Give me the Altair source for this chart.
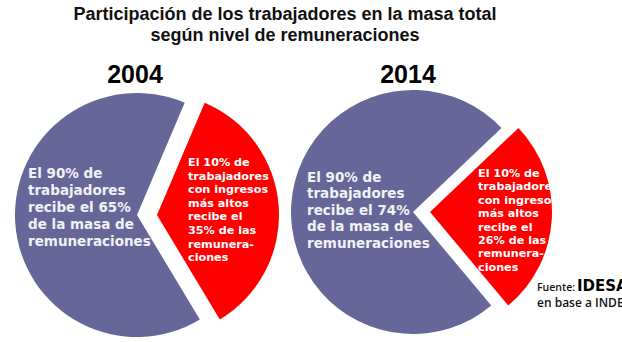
import math

import altair as alt
import pandas as pd

# ---- data -------------------------------------------------------------
years = ["2004", "2014"]
share_top10 = [35, 26]     # % of total wages received by the top 10% of workers
share_rest90 = [65, 74]    # % of total wages received by the remaining 90%

title_lines = [
    "Participación de los trabajadores en la masa total",
    "según nivel de remuneraciones",
]
source_prefix = "Fuente:"
source_name = "IDESA"
source_basis = "en base a INDEC"

# ---- layout constants -------------------------------------------------
W, H = 622, 342
BLUE = "#666699"
RED = "#ff0000"
RADIUS = 122

# per pie: centre of the large slice, horizontal shift of the exploded slice,
# rotation (degrees clockwise from 12 o'clock) where the exploded slice starts
pies = [
    dict(cx=137, cy=215, shift=20, rot=23.0, year_x=135,
         rest_xy=(28, 178), rest_lh=17.0, top_xy=(188, 166), top_lh=13.6),
    dict(cx=413, cy=212, shift=17, rot=46.5, year_x=408,
         rest_xy=(307, 182), rest_lh=16.4, top_xy=(478, 177), top_lh=13.4),
]


def rest_text(v):
    return ["El 90% de", "trabajadores", f"recibe el {v}%", "de la masa de",
            "remuneraciones"]


def top_text(v):
    return ["El 10% de", "trabajadores", "con ingresos", "más altos",
            "recibe el", f"{v}% de las", "remunera-", "ciones"]


layers = []

for i, year in enumerate(years):
    p = pies[i]
    slices = pd.DataFrame({
        "grupo": ["10% más alto", "90% restante"],
        "inicio": [0, share_top10[i]],
        "fin": [share_top10[i], share_top10[i] + share_rest90[i]],
    })
    rot = math.radians(p["rot"])
    theta_scale = alt.Scale(domain=[0, 100], range=[rot, rot + 2 * math.pi])

    # large slice (90% of workers)
    layers.append(
        alt.Chart(slices).transform_filter(alt.datum.grupo == "90% restante")
        .mark_arc(radius=RADIUS, color=BLUE, strokeWidth=0)
        .encode(
            theta=alt.Theta("inicio:Q", scale=theta_scale),
            theta2="fin:Q",
            x=alt.value(p["cx"]),
            y=alt.value(p["cy"]),
        )
    )
    # exploded slice (top 10% of workers)
    layers.append(
        alt.Chart(slices).transform_filter(alt.datum.grupo == "10% más alto")
        .mark_arc(radius=RADIUS, color=RED, strokeWidth=0)
        .encode(
            theta=alt.Theta("inicio:Q", scale=theta_scale),
            theta2="fin:Q",
            x=alt.value(p["cx"] + p["shift"]),
            y=alt.value(p["cy"]),
        )
    )

    # year heading
    layers.append(
        alt.Chart(pd.DataFrame({"t": [year]}))
        .mark_text(font="Liberation Sans", fontSize=25, fontWeight="bold",
                   color="#000000", align="center", baseline="alphabetic")
        .encode(text="t:N", x=alt.value(p["year_x"]), y=alt.value(83))
    )

    # label inside the large slice
    layers.append(
        alt.Chart(pd.DataFrame({"t": ["\n".join(rest_text(share_rest90[i]))]}))
        .mark_text(font="DejaVu Sans", fontSize=13.5, fontWeight="bold",
                   color="#f2f2f7", align="left", baseline="alphabetic",
                   lineBreak="\n", lineHeight=p["rest_lh"])
        .encode(text="t:N", x=alt.value(p["rest_xy"][0]),
                y=alt.value(p["rest_xy"][1]))
    )

    # label inside the exploded slice
    layers.append(
        alt.Chart(pd.DataFrame({"t": ["\n".join(top_text(share_top10[i]))]}))
        .mark_text(font="DejaVu Sans", fontSize=11.2, fontWeight="bold",
                   color="#ffffff", align="left", baseline="alphabetic",
                   lineBreak="\n", lineHeight=p["top_lh"])
        .encode(text="t:N", x=alt.value(p["top_xy"][0]),
                y=alt.value(p["top_xy"][1]))
    )

# chart title (two centred lines)
layers.append(
    alt.Chart(pd.DataFrame({"t": ["\n".join(title_lines)]}))
    .mark_text(font="Liberation Sans", fontSize=18, fontWeight="bold",
               color="#111111", align="center", baseline="alphabetic",
               lineBreak="\n", lineHeight=21)
    .encode(text="t:N", x=alt.value(285), y=alt.value(20))
)

# source note, running off the right edge
layers.append(
    alt.Chart(pd.DataFrame({"t": [source_prefix]}))
    .mark_text(font="Open Sans", fontSize=10.5, fontWeight=600,
               color="#111111", align="left", baseline="alphabetic")
    .encode(text="t:N", x=alt.value(537), y=alt.value(291))
)
layers.append(
    alt.Chart(pd.DataFrame({"t": [source_name]}))
    .mark_text(font="DejaVu Sans", fontSize=15, fontWeight="bold",
               color="#000000", align="left", baseline="alphabetic")
    .encode(text="t:N", x=alt.value(577), y=alt.value(291))
)
layers.append(
    alt.Chart(pd.DataFrame({"t": [source_basis]}))
    .mark_text(font="Open Sans", fontSize=12, fontWeight=600,
               color="#111111", align="left", baseline="alphabetic")
    .encode(text="t:N", x=alt.value(537), y=alt.value(307))
)

chart = (
    alt.layer(*layers)
    .resolve_scale(theta="independent")
    .properties(width=W, height=H, autosize="none", padding=0,
                background="#ffffff")
    .configure_view(stroke=None)
)

chart.save("out.html", embed_options={"renderer": "svg", "actions": False})
